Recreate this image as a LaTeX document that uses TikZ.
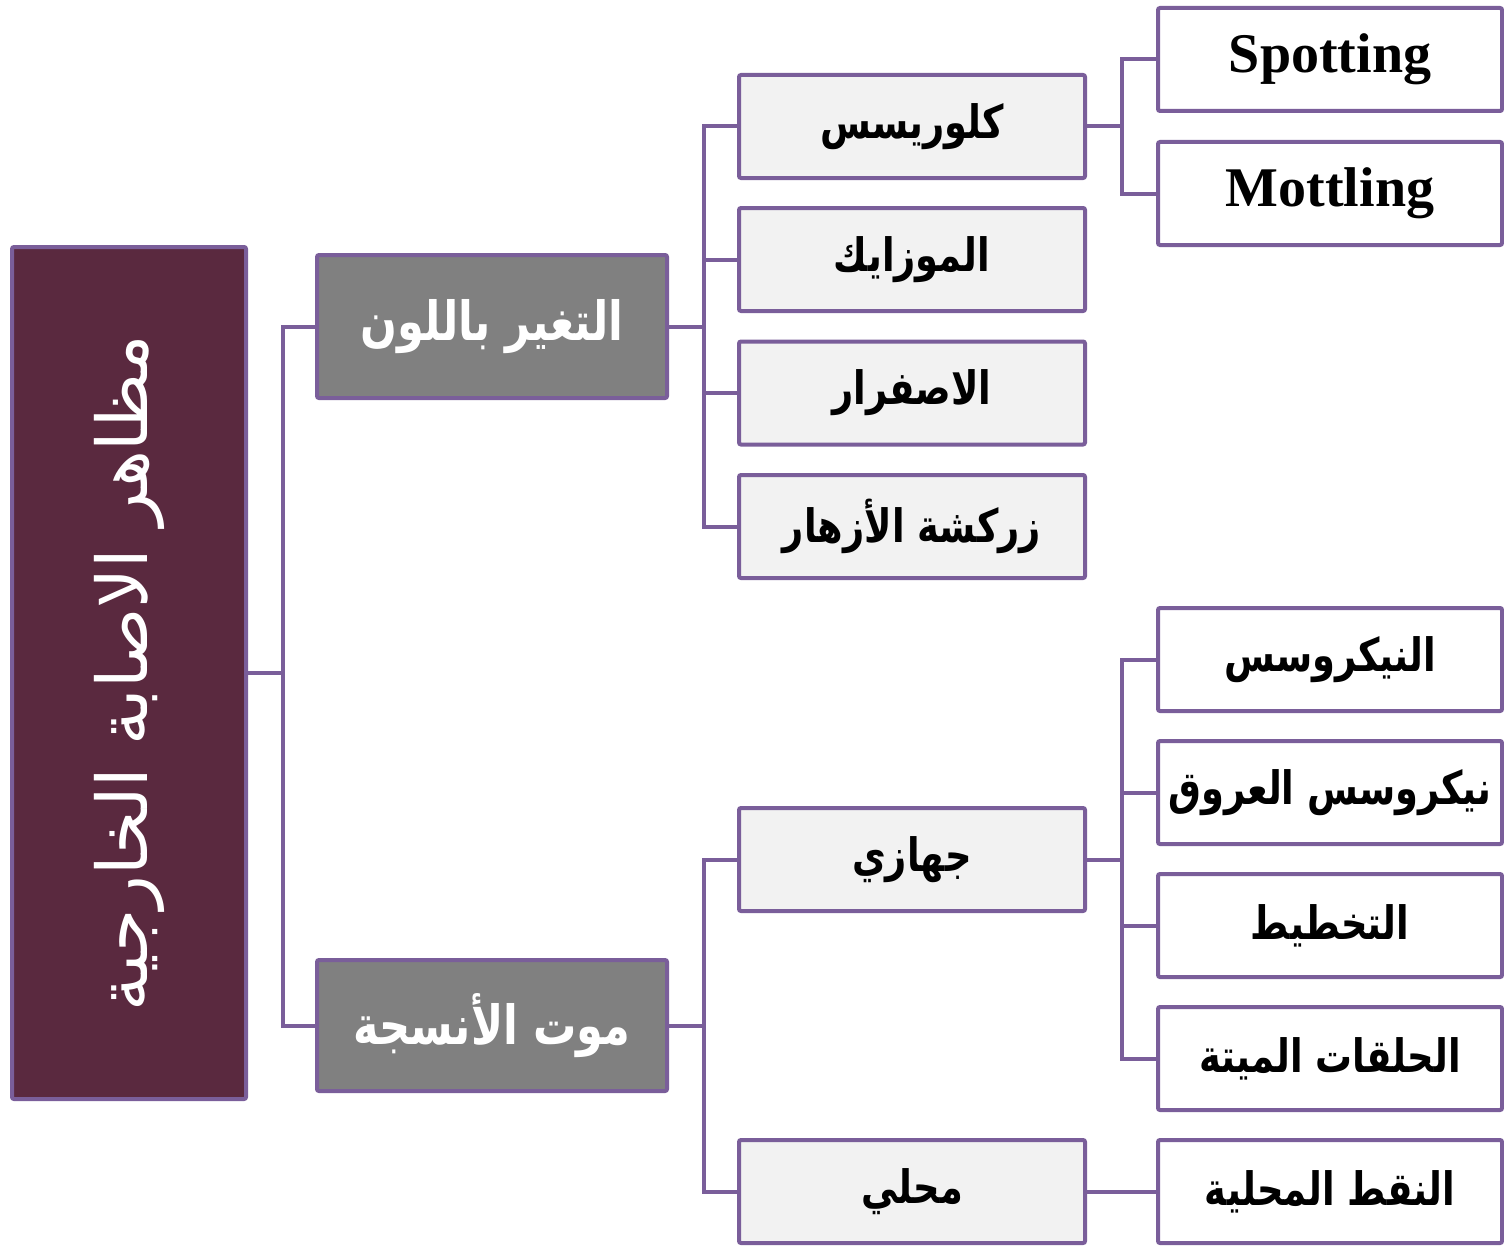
\documentclass[tikz,border=0pt]{standalone}
\usepackage{fontspec}
\usepackage{graphicx}
\newfontfamily\arabicfont[Script=Arabic]{DejaVu Sans}
\newfontfamily\arabicnarrow[Script=Arabic,FakeStretch=0.8]{DejaVu Sans}
\newfontfamily\latinfont{Liberation Serif}
\TeXXeTstate=1
\definecolor{linkcol}{RGB}{122,94,154}
\definecolor{rootcol}{RGB}{90,41,63}
\definecolor{catcol}{RGB}{128,128,128}
\definecolor{subcol}{RGB}{242,242,242}
\newcommand\artext[1]{\arabicnarrow\beginR #1\endR}
\tikzset{
  link/.style={draw=linkcol, line width=2pt},
  box/.style={draw=linkcol, line width=2pt, rounded corners=1pt, inner sep=0pt, align=center},
  rootbox/.style={box, fill=rootcol, text=white, minimum width=117pt, minimum height=426pt},
  catbox/.style={box, fill=catcol, text=white, minimum width=175pt, font=\fontsize{27}{32}\selectfont\bfseries},
  subbox/.style={box, fill=subcol, minimum width=173pt, minimum height=51.5pt, font=\fontsize{23}{28}\selectfont\bfseries},
  leafbox/.style={box, fill=white, minimum width=172pt, minimum height=51.5pt, font=\fontsize{23}{28}\selectfont\bfseries},
  engbox/.style={leafbox, font=\fontsize{28}{32}\selectfont\bfseries\latinfont},
}
\begin{document}
\begin{tikzpicture}[x=0.5pt,y=-0.5pt]
  \useasboundingbox (0,0) rectangle (1504,1247);
  \node[rootbox] (root) at (129,673) {\rotatebox{90}{\fontsize{35}{40}\selectfont\arabicfont\beginR مظاهر الاصابة الخارجية\endR}};
  \node[catbox, minimum height=71.5pt] (colour) at (492,326.5) {\artext{التغير باللون}};
  \node[catbox, minimum height=65.5pt] (death) at (492,1025.5) {\artext{موت الأنسجة}};
  \node[subbox] (chloro) at (912,126.5) {\artext{كلوريسس}};
  \node[subbox] (mosaic) at (912,259.5) {\artext{الموزايك}};
  \node[subbox] (yellow) at (912,393) {\artext{الاصفرار}};
  \node[subbox] (flower) at (912,526.5) {\artext{زركشة الأزهار}};
  \node[subbox] (system) at (912,859.5) {\artext{جهازي}};
  \node[subbox] (local) at (912,1191.5) {\artext{محلي}};
  \node[engbox] (spot) at (1330,59.5) {Spotting};
  \node[engbox] (mottle) at (1330,193.5) {Mottling};
  \node[leafbox] (necro) at (1330,659.5) {\artext{النيكروسس}};
  \node[leafbox] (vein) at (1330,792.5) {\makebox[160pt]{\artext{نيكروسس العروق}}};
  \node[leafbox] (streak) at (1330,925.5) {\artext{التخطيط}};
  \node[leafbox] (ring) at (1330,1058.5) {\artext{الحلقات الميتة}};
  \node[leafbox] (spots) at (1330,1191.5) {\artext{النقط المحلية}};
  % connectors
  \draw[link] (root.east) -- ++(35,0) coordinate (rj);
  \foreach \t in {colour,death} \draw[link] (rj) |- (\t.west);
  \draw[link] (colour.east) -- ++(35,0) coordinate (cj);
  \foreach \t in {chloro,mosaic,yellow,flower} \draw[link] (cj) |- (\t.west);
  \draw[link] (death.east) -- ++(35,0) coordinate (dj);
  \foreach \t in {system,local} \draw[link] (dj) |- (\t.west);
  \draw[link] (chloro.east) -- ++(35,0) coordinate (kj);
  \foreach \t in {spot,mottle} \draw[link] (kj) |- (\t.west);
  \draw[link] (system.east) -- ++(35,0) coordinate (sj);
  \foreach \t in {necro,vein,streak,ring} \draw[link] (sj) |- (\t.west);
  \draw[link] (local) -- (spots);
\end{tikzpicture}
\end{document}
